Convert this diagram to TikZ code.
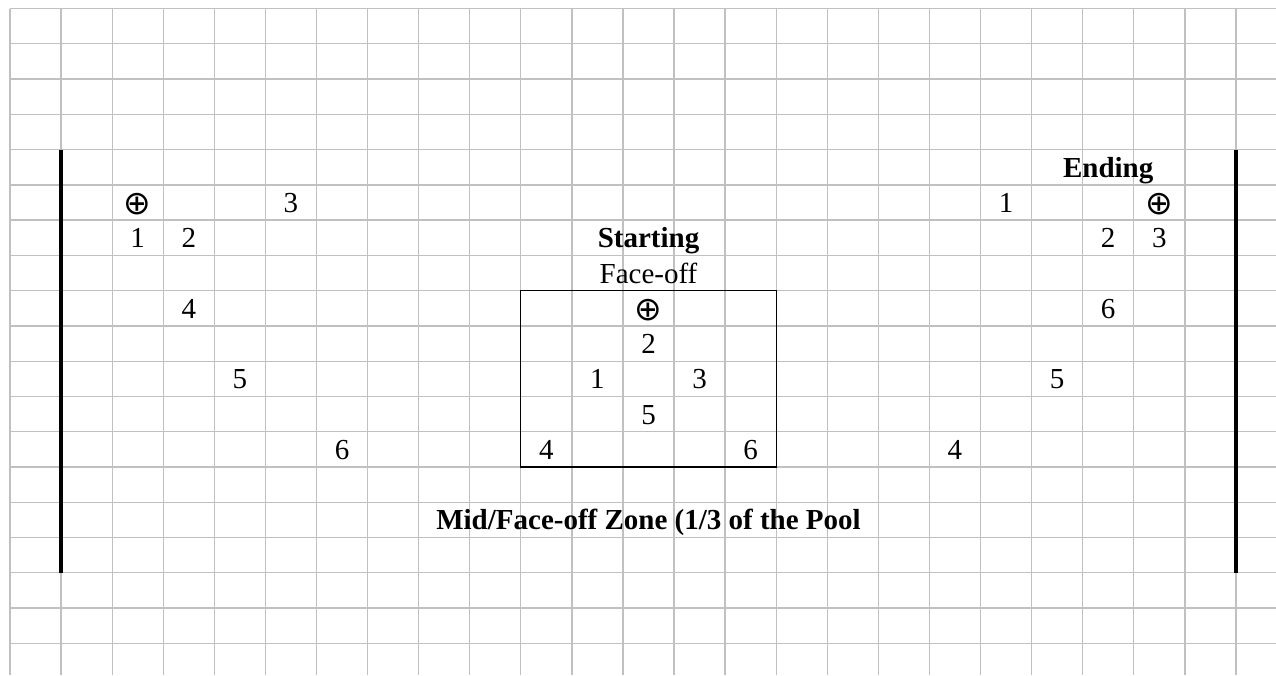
\documentclass[tikz,border=0pt]{standalone}
\usepackage{fontspec}
\setmainfont{Liberation Serif}
\newfontfamily\symfont{DejaVu Sans}
\definecolor{gridgray}{RGB}{192,192,192}
\tikzset{
  gridline/.style={draw=gridgray, line width=1.3pt},
  wall/.style={draw=black, line width=4pt},
  zonebox/.style={draw=black, line width=1.3pt},
  lbl/.style={inner sep=0pt, anchor=base, yshift=-10pt, font=\fontsize{29}{34}\selectfont},
  blbl/.style={lbl, font=\fontsize{29}{34}\selectfont\bfseries},
  ballsym/.style={inner sep=0pt, anchor=center, yshift=-1.5pt, font=\symfont\fontsize{33}{38}\selectfont}
}
\begin{document}
\begin{tikzpicture}[x=1pt,y=-1pt]
\useasboundingbox (0,0) rectangle (1276,675);
\begin{scope}[shift={(10pt,-8.5pt)}, x=51.08pt, y=-35.27pt]
  % grid
  \foreach \r in {0,...,18} \draw[gridline] (0,\r) -- ({1266/51.08},\r);
  \foreach \c in {0,...,24} \draw[gridline] (\c,0) -- (\c,{666.5/35.27});
  % walls
  \coordinate (wl1) at (1,4); \coordinate (wl2) at (1,16);
  \coordinate (wr1) at (24,4); \coordinate (wr2) at (24,16);
  \draw[wall] (wl1) -- (wl2);
  \draw[wall] (wr1) -- (wr2);
  % face-off box
  \coordinate (b1) at (10,8); \coordinate (b2) at (15,13);
  \draw[zonebox] (b1) rectangle (b2);
  % left side
  \node[ballsym] (lb) at (2.5,5.5) {⊕};
  \node[lbl] (l3) at (5.5,5.5) {3};
  \node[lbl] (l1) at (2.5,6.5) {1};
  \node[lbl] (l2) at (3.5,6.5) {2};
  \node[lbl] (l4) at (3.5,8.5) {4};
  \node[lbl] (l5) at (4.5,10.5) {5};
  \node[lbl] (l6) at (6.5,12.5) {6};
  % centre
  \node[blbl] (start) at (12.5,6.5) {Starting};
  \node[lbl] (face) at (12.5,7.5) {Face-off};
  \node[ballsym] (cb) at (12.5,8.5) {⊕};
  \node[lbl] (c2) at (12.5,9.5) {2};
  \node[lbl] (c1) at (11.5,10.5) {1};
  \node[lbl] (c3) at (13.5,10.5) {3};
  \node[lbl] (c5) at (12.5,11.5) {5};
  \node[lbl] (c4) at (10.5,12.5) {4};
  \node[lbl] (c6) at (14.5,12.5) {6};
  \node[blbl] (zone) at (12.5,14.5) {Mid/Face-off Zone (1/3 of the Pool};
  % right side
  \node[blbl] (end) at (21.5,4.5) {Ending};
  \node[lbl] (r1) at (19.5,5.5) {1};
  \node[ballsym] (rb) at (22.5,5.5) {⊕};
  \node[lbl] (r2) at (21.5,6.5) {2};
  \node[lbl] (r3) at (22.5,6.5) {3};
  \node[lbl] (r6) at (21.5,8.5) {6};
  \node[lbl] (r5) at (20.5,10.5) {5};
  \node[lbl] (r4) at (18.5,12.5) {4};
\end{scope}
\end{tikzpicture}
\end{document}
